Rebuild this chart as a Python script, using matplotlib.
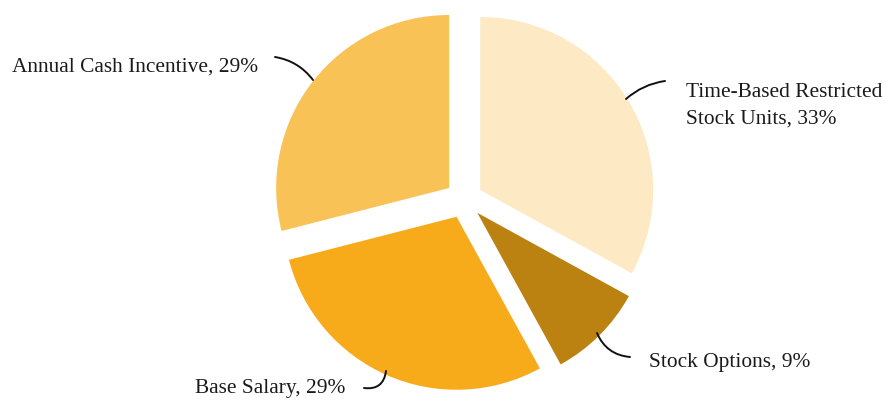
import matplotlib
matplotlib.use("Agg")
import matplotlib.pyplot as plt

categories = ["Time-Based Restricted\nStock Units", "Stock Options", "Base Salary", "Annual Cash Incentive"]
values = [33, 9, 29, 29]
colors = ["#FDEAC5", "#BB8212", "#F7AB1B", "#F9C257"]

W, H = 887, 404
fig = plt.figure(figsize=(W / 100, H / 100), dpi=100)
ax = fig.add_axes([0, 0, 1, 1])

R = 173
cx, cy = 464, H - 199.5
ax.pie(values, colors=colors, startangle=90, counterclock=False, radius=R,
       center=(cx, cy), explode=[18.8] * 4, frame=True,
       wedgeprops=dict(linewidth=0))
ax.set_xlim(0, W)
ax.set_ylim(0, H)
ax.set_aspect("equal")
ax.axis("off")

font = dict(family="Liberation Serif", fontsize=15.4, color="#1a1a1a")

# (text x, text y, ha, va, line start (text side), line end (pie side), rad)
label_specs = [
    (686, 106, "left", "center", (665, 81), (626, 99), 0.15),
    (649, 363, "left", "center", (630, 357), (597, 333), -0.3),
    (195, 388, "left", "center", (364, 388), (386, 371), 0.5),
    (12, 67, "left", "center", (275, 57), (313, 80), -0.2),
]

for cat, v, (tx, ty, ha, va, p0, p1, rad) in zip(categories, values, label_specs):
    ax.text(tx, H - ty, f"{cat}, {v}%", ha=ha, va=va, linespacing=1.55, **font)
    ax.annotate("", xy=(p1[0], H - p1[1]), xytext=(p0[0], H - p0[1]),
                arrowprops=dict(arrowstyle="-", color="#111111", lw=1.4,
                                shrinkA=0, shrinkB=0,
                                connectionstyle=f"arc3,rad={rad}"))

fig.savefig("out.png", dpi=100, facecolor="white")
